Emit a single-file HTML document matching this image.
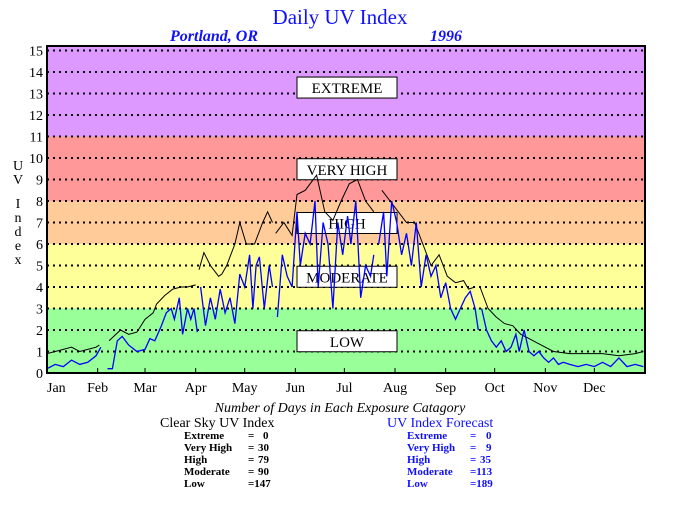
<!DOCTYPE html>
<html><head><meta charset="utf-8"><style>
body{margin:0;background:#fff;width:680px;height:500px;overflow:hidden;font-family:"Liberation Serif",serif}
svg text{font-family:"Liberation Serif",serif}
</style></head><body>
<svg id="c" width="680" height="500">
<text x="340" y="24" text-anchor="middle" font-size="21" fill="#1010ff">Daily UV Index</text>
<text x="170" y="41" font-size="16" font-weight="bold" font-style="italic" fill="#1010ff">Portland, OR</text>
<text x="430" y="41" font-size="16" font-weight="bold" font-style="italic" fill="#1010ff">1996</text>
<g id="bands"></g><g id="grid"></g><g id="ylab"></g><g id="xlab"></g>
<g id="boxes"></g><g id="lines"></g>
<rect x="47" y="46" width="598" height="327" fill="none" stroke="#000" stroke-width="2"/>
<text x="18" y="170" font-size="14" text-anchor="middle"><tspan x="18" dy="0">U</tspan><tspan x="18" dy="14">V</tspan><tspan x="18" dy="24">I</tspan><tspan x="18" dy="14">n</tspan><tspan x="18" dy="14">d</tspan><tspan x="18" dy="14">e</tspan><tspan x="18" dy="14">x</tspan></text>
<text x="340" y="412" text-anchor="middle" font-size="14" font-style="italic">Number of Days in Each Exposure Catagory</text>
<g font-size="11" font-weight="bold">
<text x="160" y="427" font-size="14" font-weight="normal">Clear Sky UV Index</text>
<text x="184" y="439">Extreme</text><text x="248" y="439">=</text><text x="263" y="439">0</text>
<text x="184" y="451">Very High</text><text x="248" y="451">=</text><text x="258" y="451">30</text>
<text x="184" y="463">High</text><text x="248" y="463">=</text><text x="258" y="463">79</text>
<text x="184" y="475">Moderate</text><text x="248" y="475">=</text><text x="258" y="475">90</text>
<text x="184" y="487">Low</text><text x="248" y="487">=147</text>
</g>
<g font-size="11" font-weight="bold" fill="#1010ff">
<text x="387" y="427" font-size="14" font-weight="normal">UV Index Forecast</text>
<text x="407" y="439">Extreme</text><text x="470" y="439">=</text><text x="486" y="439">0</text>
<text x="407" y="451">Very High</text><text x="470" y="451">=</text><text x="486" y="451">9</text>
<text x="407" y="463">High</text><text x="470" y="463">=</text><text x="480" y="463">35</text>
<text x="407" y="475">Moderate</text><text x="470" y="475">=113</text>
<text x="407" y="487">Low</text><text x="470" y="487">=189</text>
</g>
</svg>
<script>
const months=["Jan","Feb","Mar","Apr","May","Jun","Jul","Aug","Sep","Oct","Nov","Dec"];
const monthStartDays=[0,31,60,91,121,152,182,213,244,274,305,335];
const yTicks=[0,1,2,3,4,5,6,7,8,9,10,11,12,13,14,15];
const bandNames=["low","moderate","high","very-high","extreme"];
const bandFrom=[0,3,6,8,11];
const bandTo=[3,6,8,11,15.3];
const bandLabels=["LOW","MODERATE","HIGH","VERY HIGH","EXTREME"];
const bandLabelValues=[1.5,4.5,7.0,9.5,13.3];
const clearDays=[0,5,10,15,20,25,30,32,null,38,45,50,55,60,65,67,72,77,82,86,91,null,93,96,100,105,107,110,115,118,122,127,132,135,138,null,140,145,150,153,158,165,170,175,180,185,190,195,200,null,205,210,215,220,225,230,235,240,245,250,255,258,262,null,265,270,275,280,285,290,295,300,310,320,330,340,350,360,365];
const clearVals=[0.9,1.0,1.1,1.2,1.0,1.1,1.2,1.3,null,1.5,2.0,1.8,1.9,2.5,2.8,3.2,3.6,3.9,4.0,4.0,4.1,null,4.8,5.6,5.0,4.5,4.6,5.0,6.0,7.0,6.0,6.0,7.0,7.5,7.0,null,6.5,7.0,6.4,8.3,8.5,9.2,7.5,7.1,8.0,8.8,9.0,8.0,7.5,null,8.5,8.0,7.5,7.0,7.0,6.0,5.0,5.5,4.5,4.2,4.3,3.9,4.0,null,4.0,3.0,2.6,2.3,2.2,1.8,1.6,1.4,1.0,0.9,0.9,0.9,0.8,0.9,1.0];
const fcDays=[0,5,10,15,20,25,30,33,null,37,40,43,46,50,55,60,63,66,70,73,76,78,81,83,86,88,90,92,null,94,97,100,103,106,109,112,115,118,121,124,126,128,130,133,136,138,null,141,144,147,150,153,155,158,161,164,166,169,172,175,178,181,184,186,189,192,195,198,200,null,203,206,208,211,214,217,220,223,226,229,232,235,238,241,244,247,250,253,256,259,262,264,null,266,269,272,275,278,281,284,287,289,292,295,298,301,304,307,310,313,316,320,325,330,335,340,345,350,355,360,365];
const fcVals=[0.2,0.4,0.3,0.6,0.4,0.5,0.8,1.2,null,0.2,0.2,1.5,1.7,1.3,1.0,1.1,1.6,1.5,2.2,2.8,3.0,2.5,3.5,1.8,3.0,2.5,3.0,1.9,null,4.0,2.2,3.5,2.5,3.9,2.8,3.5,2.3,4.6,4.0,5.5,3.0,5.0,5.4,3.0,5.0,4.0,null,2.6,5.5,4.5,4.0,7.5,5.0,6.5,6.0,8.0,4.0,7.0,6.0,3.0,7.0,5.5,7.3,6.0,8.0,3.5,5.0,4.5,5.5,null,6.0,7.5,4.5,8.0,7.0,5.5,6.5,5.0,7.0,4.0,5.5,4.5,5.0,3.5,4.2,3.0,2.5,3.0,3.5,3.8,3.0,2.0,null,3.0,2.0,1.5,1.2,1.5,1.0,1.2,1.8,1.0,2.0,1.0,0.8,1.0,0.7,0.5,0.7,0.4,0.5,0.4,0.3,0.4,0.3,0.5,0.3,0.7,0.3,0.4,0.3];
const bandColors=["#99ff99","#ffff99","#ffcc99","#ff9999","#dd99ff"];
const X0=47,X1=645,Y0=373,PY=21.5;
const xs=d=>X0+(X1-X0)*d/366;
const ys=v=>Math.max(46,Y0-PY*v);
const NS="http://www.w3.org/2000/svg";
function mk(t,p,a){const e=document.createElementNS(NS,t);for(const k in a)e.setAttribute(k,a[k]);document.getElementById(p).appendChild(e);return e;}
bandFrom.forEach((f,i)=>{const e=mk("rect","bands",{x:X0,y:ys(bandTo[i]),width:X1-X0,height:ys(f)-ys(bandTo[i]),fill:bandColors[i]});

});
yTicks.forEach(v=>{if(v>0){const g=mk("line","grid",{x1:X0,x2:X1,y1:ys(v),y2:ys(v),stroke:"#000","stroke-width":2,"stroke-dasharray":"2,4"});

}
const t=mk("text","ylab",{x:43,y:ys(v)+5,"text-anchor":"end","font-size":14});t.textContent=v;

});
months.forEach((m,i)=>{const x=xs(monthStartDays[i]);
const tk=mk("line","xlab",{x1:x,x2:x,y1:Y0,y2:Y0-5,stroke:"#000"});


const t=mk("text","xlab",{x:x,y:392,"text-anchor":i==0?"start":"middle","font-size":14});t.textContent=m;

});
function path(days,vals){let d="",pen=false;days.forEach((dd,i)=>{if(dd===null||vals[i]===null){pen=false;return;}d+=(pen?"L":"M")+xs(dd).toFixed(1)+","+ys(vals[i]).toFixed(1);pen=true;});return d;}
const l1=mk("path","lines",{d:path(clearDays,clearVals),fill:"none",stroke:"#000","stroke-width":1});


const l2=mk("path","lines",{d:path(fcDays,fcVals),fill:"none",stroke:"#0000ff","stroke-width":1.3});


bandLabels.forEach((b,i)=>{const cy=ys(bandLabelValues[i]);
const r=mk("rect","boxes",{x:297,y:cy-10,width:100,height:21,fill:"#fff",stroke:"#000"});


const t=mk("text","boxes",{x:347,y:cy+6,"text-anchor":"middle","font-size":15});t.textContent=b;

});
</script>
</body></html>
